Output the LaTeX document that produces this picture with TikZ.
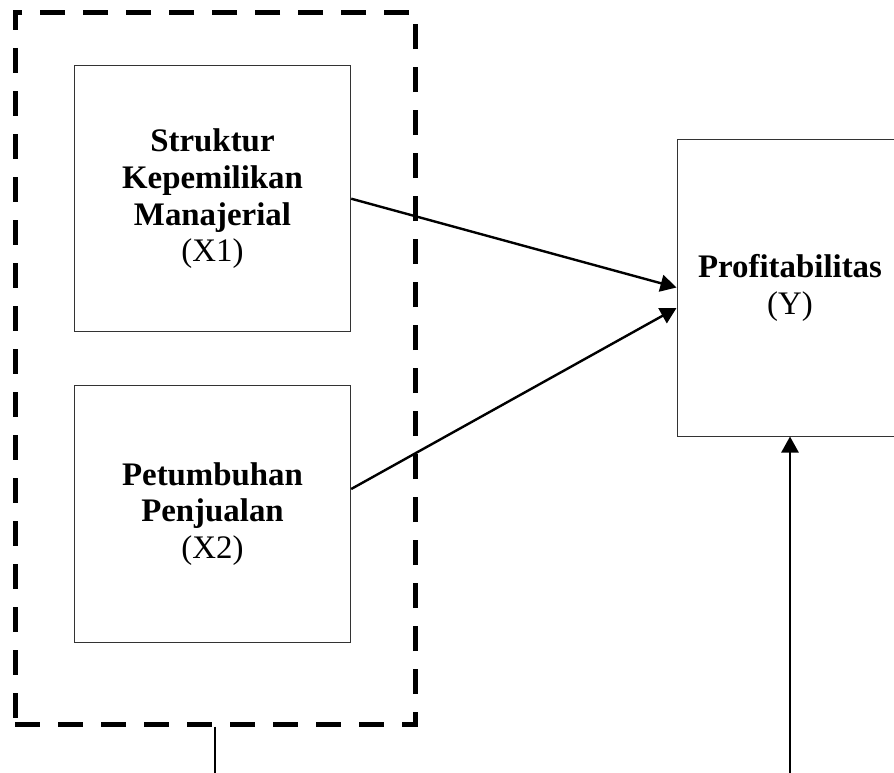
\documentclass[tikz,border=0pt]{standalone}
\usepackage{fontspec}
\setmainfont{Liberation Serif}
\usetikzlibrary{arrows.meta}
\tikzset{
  varbox/.style={draw=black!80,line width=1bp,rectangle,align=center,
    font=\fontsize{33}{37}\selectfont},
  grpbox/.style={draw=black,line width=5bp,dash pattern=on 25bp off 18bp,rectangle},
}
\begin{document}
\begin{tikzpicture}[>={Triangle[length=16bp,width=17bp]},line join=miter,]
    %%
    \useasboundingbox (0bp,0bp) rectangle (894bp,-773bp);
    \node (grp) at (215.0bp,-368.0bp) [grpbox,minimum width=400bp,minimum height=712bp] {};
    \node (x1) at (212.5bp,-198.7bp) [varbox,minimum width=276.4bp,minimum height=266bp] {\textbf{Struktur}\\\textbf{Kepemilikan}\\\textbf{Manajerial}\\(X1)};
    \node (x2) at (212.5bp,-514.0bp) [varbox,minimum width=276.4bp,minimum height=256.6bp] {\textbf{Petumbuhan}\\\textbf{Penjualan}\\(X2)};
    \node (y) at (790.0bp,-287.5bp) [varbox,minimum width=226bp,minimum height=297bp] {\textbf{Profitabilitas}\\(Y)};
    \coordinate (g0) at (215.0bp,-773.0bp);
    \coordinate (y0) at (790.0bp,-773.0bp);
    \draw [->,line width=2.4bp] (x1.east) -- (y.west);
    \draw [->,line width=2.4bp] ([yshift=25bp]x2.east) -- ([yshift=-20.5bp]y.west);
    \draw [->,line width=2.4bp] (y0) -- (y.south);
    \draw [line width=1.5bp] (grp.south) -- (g0);
    %
\end{tikzpicture}
\end{document}
